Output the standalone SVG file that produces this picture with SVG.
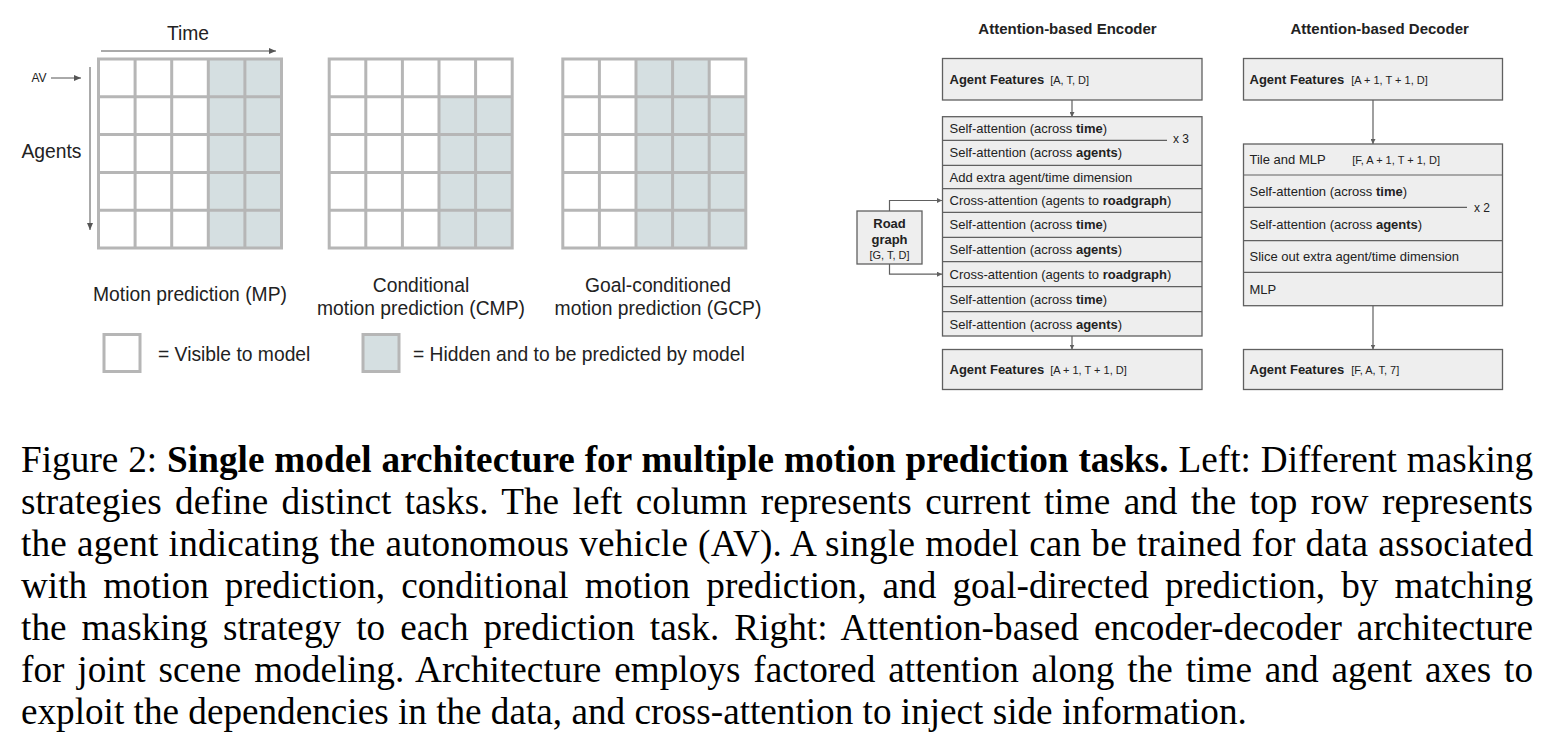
<svg xmlns="http://www.w3.org/2000/svg" xmlns:xlink="http://www.w3.org/1999/xlink" width="1547" height="755" viewBox="0 0 1547 755">
<style>
.sans{font-family:"Liberation Sans",Arial,sans-serif;fill:#222}
.lbl{font-size:19.3px}
.cell{fill:none;stroke:#b6b6b6;stroke-width:3;stroke-linecap:square}
.hid{fill:#d5dfe1}
.box{fill:#eeeeee;stroke:#606060;stroke-width:1.3}
.sep{stroke:#606060;stroke-width:1.2;fill:none}
.t13{font-size:13px}
.t11{font-size:11px}
.b{font-weight:bold}
.arr{stroke:#555;stroke-width:1;fill:none}
.conn{stroke:#606060;stroke-width:1.2;fill:none}
.cap{font-family:"Liberation Serif","Times New Roman",serif;font-size:37.2px;fill:#000}
</style>
<defs>
<marker id="ah" markerWidth="7" markerHeight="6" refX="7" refY="3" orient="auto" markerUnits="userSpaceOnUse"><path d="M0,0L7,3L0,6z" fill="#555"/></marker>
<marker id="ah2" markerWidth="5" markerHeight="5" refX="5" refY="2.5" orient="auto" markerUnits="userSpaceOnUse"><path d="M0,0L5,2.5L0,5z" fill="#606060"/></marker>
<path id="grid" class="cell" d="M0,59V248M36.6,59V248M73.2,59V248M109.8,59V248M146.4,59V248M183,59V248M0,59H183M0,96.8H183M0,134.6H183M0,172.4H183M0,210.2H183M0,248H183"/>
</defs>
<rect width="1547" height="755" fill="#fff"/>

<!-- Left: masking grids -->
<g id="axes" class="sans">
<text class="lbl" x="188" y="40" text-anchor="middle">Time</text>
<line class="arr" x1="101" y1="51" x2="276" y2="51" marker-end="url(#ah)"/>
<text x="39" y="82" font-size="12" text-anchor="middle">AV</text>
<line class="arr" x1="51" y1="78" x2="81" y2="78" marker-end="url(#ah)"/>
<text class="lbl" x="51.5" y="158" text-anchor="middle">Agents</text>
<line class="arr" x1="90" y1="67" x2="90" y2="230" marker-end="url(#ah)"/>
</g>
<g id="grid-mp">
<rect x="98.5" y="59" width="183" height="189" fill="#fff"/>
<rect class="hid" x="208.3" y="59" width="73.2" height="189"/>
<use xlink:href="#grid" href="#grid" transform="translate(98.5,0)"/>
<text class="sans lbl" x="190" y="301" text-anchor="middle">Motion prediction (MP)</text>
</g>
<g id="grid-cmp">
<rect x="329.2" y="59" width="183" height="189" fill="#fff"/>
<rect class="hid" x="439" y="96.8" width="73.2" height="151.2"/>
<use xlink:href="#grid" href="#grid" transform="translate(329.2,0)"/>
<text class="sans lbl" x="421" y="292" text-anchor="middle">Conditional</text>
<text class="sans lbl" x="421" y="315" text-anchor="middle">motion prediction (CMP)</text>
</g>
<g id="grid-gcp">
<rect x="562.8" y="59" width="183" height="189" fill="#fff"/>
<rect class="hid" x="636" y="59" width="73.2" height="37.8"/>
<rect class="hid" x="636" y="96.8" width="109.8" height="151.2"/>
<use xlink:href="#grid" href="#grid" transform="translate(562.8,0)"/>
<text class="sans lbl" x="658" y="292" text-anchor="middle">Goal-conditioned</text>
<text class="sans lbl" x="658" y="315" text-anchor="middle">motion prediction (GCP)</text>
</g>
<g id="legend" class="sans">
<rect x="104" y="334.5" width="36" height="37" fill="#fff" stroke="#b6b6b6" stroke-width="3"/>
<text class="lbl" x="158" y="361">= Visible to model</text>
<rect x="363" y="334.5" width="36" height="37" class="hid" stroke="#b6b6b6" stroke-width="3"/>
<text class="lbl" x="413" y="361">= Hidden and to be predicted by model</text>
</g>

<!-- Right: encoder -->
<g id="connectors">
<line class="conn" x1="1072" y1="100" x2="1072" y2="117" marker-end="url(#ah2)"/>
<line class="conn" x1="1072" y1="336" x2="1072" y2="349.5" marker-end="url(#ah2)"/>
<path class="conn" d="M889.5,211V200.5H942" marker-end="url(#ah2)"/>
<path class="conn" d="M889.5,264V274.2H942" marker-end="url(#ah2)"/>
<line class="conn" x1="1373" y1="100" x2="1373" y2="144" marker-end="url(#ah2)"/>
<line class="conn" x1="1373" y1="305.7" x2="1373" y2="349.5" marker-end="url(#ah2)"/>
</g>
<g id="encoder-title" class="sans">
<text class="b" x="1067.5" y="34" font-size="15" text-anchor="middle">Attention-based Encoder</text>
</g>
<g id="enc-input" class="sans">
<rect class="box" x="942.5" y="58.5" width="259.5" height="41.5"/>
<text class="t13" x="949.5" y="83.7"><tspan class="b">Agent Features</tspan><tspan class="t11" dx="6">[A, T, D]</tspan></text>
</g>
<g id="enc-stack" class="sans t13">
<rect class="box" x="942.5" y="116.7" width="259.5" height="219.3"/>
<path class="sep" d="M942.5,140.3H1167M942.5,165.3H1202M942.5,188.7H1202M942.5,212.3H1202M942.5,237.3H1202M942.5,261.7H1202M942.5,286.7H1202M942.5,311.7H1202"/>
<text x="949.5" y="133.1">Self-attention (across <tspan class="b">time</tspan>)</text>
<text x="949.5" y="157.4">Self-attention (across <tspan class="b">agents</tspan>)</text>
<text x="949.5" y="181.6">Add extra agent/time dimension</text>
<text x="949.5" y="205.1">Cross-attention (agents to <tspan class="b">roadgraph</tspan>)</text>
<text x="949.5" y="229.4">Self-attention (across <tspan class="b">time</tspan>)</text>
<text x="949.5" y="254.1">Self-attention (across <tspan class="b">agents</tspan>)</text>
<text x="949.5" y="278.8">Cross-attention (agents to <tspan class="b">roadgraph</tspan>)</text>
<text x="949.5" y="303.8">Self-attention (across <tspan class="b">time</tspan>)</text>
<text x="949.5" y="328.5">Self-attention (across <tspan class="b">agents</tspan>)</text>
<text x="1173" y="142.6" font-size="12">x 3</text>
</g>
<g id="roadgraph" class="sans">
<rect class="box" x="857" y="211" width="65" height="53"/>
<text class="t13 b" x="889.5" y="227.5" text-anchor="middle">Road</text>
<text class="t13 b" x="889.5" y="244" text-anchor="middle">graph</text>
<text class="t11" x="889.5" y="258.5" text-anchor="middle">[G, T, D]</text>
</g>
<g id="enc-output" class="sans">
<rect class="box" x="942.5" y="349.5" width="259.5" height="40"/>
<text class="t13" x="949.5" y="374"><tspan class="b">Agent Features</tspan><tspan class="t11" dx="6">[A + 1, T + 1, D]</tspan></text>
</g>

<!-- Right: decoder -->
<g id="decoder-title" class="sans">
<text class="b" x="1379.7" y="34" font-size="15" text-anchor="middle">Attention-based Decoder</text>
</g>
<g id="dec-input" class="sans">
<rect class="box" x="1243.5" y="58.5" width="259" height="41.5"/>
<text class="t13" x="1249.5" y="83.7"><tspan class="b">Agent Features</tspan><tspan class="t11" dx="7">[A + 1, T + 1, D]</tspan></text>
</g>
<g id="dec-stack" class="sans t13">
<rect class="box" x="1243.5" y="144" width="259" height="161.7"/>
<path class="sep" d="M1243.5,175H1502.5M1243.5,207.3H1467M1243.5,240.7H1502.5M1243.5,272.3H1502.5"/>
<text x="1249.5" y="164">Tile and MLP</text>
<text class="t11" x="1352.3" y="164">[F, A + 1, T + 1, D]</text>
<text x="1249.5" y="196">Self-attention (across <tspan class="b">time</tspan>)</text>
<text x="1249.5" y="228.5">Self-attention (across <tspan class="b">agents</tspan>)</text>
<text x="1249.5" y="261">Slice out extra agent/time dimension</text>
<text x="1249.5" y="293.5">MLP</text>
<text x="1474" y="211.5" font-size="12">x 2</text>
</g>
<g id="dec-output" class="sans">
<rect class="box" x="1243.5" y="349.5" width="259" height="40"/>
<text class="t13" x="1249.5" y="374"><tspan class="b">Agent Features</tspan><tspan class="t11" dx="7">[F, A, T, 7]</tspan></text>
</g>

<!-- Caption -->
<g id="caption" class="cap">
<text x="21" y="472" word-spacing="0.5" textLength="1512">Figure 2: <tspan font-weight="bold">Single model architecture for multiple motion prediction tasks.</tspan> Left: Different masking</text>
<text x="21" y="514" word-spacing="4.1" textLength="1512">strategies define distinct tasks. The left column represents current time and the top row represents</text>
<text x="21" y="556" word-spacing="0.5" textLength="1512">the agent indicating the autonomous vehicle (AV). A single model can be trained for data associated</text>
<text x="21" y="598" word-spacing="6.8" textLength="1512">with motion prediction, conditional motion prediction, and goal-directed prediction, by matching</text>
<text x="21" y="640" word-spacing="5.6" textLength="1512">the masking strategy to each prediction task. Right: Attention-based encoder-decoder architecture</text>
<text x="21" y="682" word-spacing="3.5" textLength="1512">for joint scene modeling. Architecture employs factored attention along the time and agent axes to</text>
<text x="21" y="724">exploit the dependencies in the data, and cross-attention to inject side information.</text>
</g>
</svg>
